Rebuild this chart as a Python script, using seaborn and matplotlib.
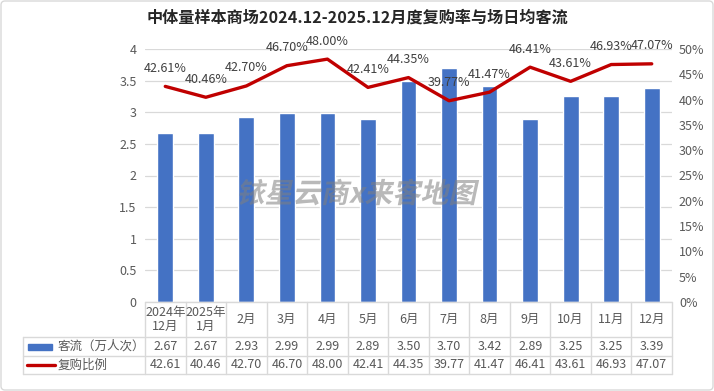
import numpy as np
import pandas as pd
import matplotlib
matplotlib.use('Agg')
import matplotlib.pyplot as plt
import seaborn as sns
from matplotlib.patches import Rectangle, FancyBboxPatch, PathPatch
from matplotlib.textpath import TextPath
from matplotlib.font_manager import FontProperties
from matplotlib.transforms import Affine2D

# data
months = ['2024年\n12月', '2025年\n1月', '2月', '3月', '4月', '5月', '6月', '7月', '8月', '9月', '10月', '11月', '12月']
traffic = [2.67, 2.67, 2.93, 2.99, 2.99, 2.89, 3.50, 3.70, 3.42, 2.89, 3.25, 3.25, 3.39]
repurchase = [42.61, 40.46, 42.70, 46.70, 48.00, 42.41, 44.35, 39.77, 41.47, 46.41, 43.61, 46.93, 47.07]
left_ticks = [0, 0.5, 1, 1.5, 2, 2.5, 3, 3.5, 4]
right_ticks = [0, 5, 10, 15, 20, 25, 30, 35, 40, 45, 50]
title = '中体量样本商场2024.12-2025.12月度复购率与场日均客流'
watermark = '铱星云商x来客地图'
series_names = ['客流（万人次）', '复购比例']

bar_color = '#4472C4'
line_color = '#C00000'
text_color = '#595959'
grid_color = '#D9D9D9'

sns.set_style('white')
plt.rcParams['font.family'] = ['Noto Sans CJK SC', 'DejaVu Sans']

W, H = 714, 391
fig = plt.figure(figsize=(W / 100, H / 100), dpi=100)

# plot area in pixels
x0, x1, y_top, y_bot = 145, 672, 49, 302
ax = fig.add_axes([x0 / W, (H - y_bot) / H, (x1 - x0) / W, (y_bot - y_top) / H])

df = pd.DataFrame({'month': months, 'traffic': traffic, 'rate': repurchase})
sns.barplot(data=df, x='month', y='traffic', color=bar_color, width=0.39,
            saturation=1, ax=ax, zorder=2)
ax.set_xlim(-0.5, len(months) - 0.5)
ax.set_ylim(0, 4)
ax.set_yticks(left_ticks)
ax.set_yticklabels(['%g' % t for t in left_ticks])
ax.yaxis.grid(True, color=grid_color, linewidth=0.9, zorder=0)
ax.set_axisbelow(True)
ax.set_xticks([])
ax.set_xlabel('')
ax.set_ylabel('')
ax.tick_params(axis='y', length=0, pad=6, labelsize=9, labelcolor=text_color)
for s in ax.spines.values():
    s.set_visible(False)

ax2 = ax.twinx()
sns.lineplot(x=np.arange(len(months)), y=df['rate'], color=line_color, linewidth=2.4,
             ax=ax2, zorder=3)
ax2.set_ylim(0, 50)
ax2.set_yticks(right_ticks)
ax2.set_yticklabels(['%d%%' % t for t in right_ticks])
ax2.tick_params(axis='y', length=0, pad=5, labelsize=9, labelcolor=text_color)
ax2.set_ylabel('')
ax2.set_xlim(-0.5, len(months) - 0.5)
for s in ax2.spines.values():
    s.set_visible(False)
for i, v in enumerate(repurchase):
    ax2.annotate('%.2f%%' % v, (i, v), xytext=(0, 13), textcoords='offset points',
                 ha='center', va='center', fontsize=9, color='#404040')

# title
fig.text(0.5, (H - 18) / H, title, ha='center', va='center', fontsize=11.6,
         fontweight='bold', color='#262626')

# table drawn in pixel coordinates
tab = fig.add_axes([0, 0, 1, 1], zorder=5)
tab.set_xlim(0, W)
tab.set_ylim(H, 0)
tab.axis('off')
tab.patch.set_alpha(0)

n = len(months)
cw = (x1 - x0) / n
r0, r1, r2, r3 = 302, 337, 356, 374
leg_x = 23
lc = grid_color
tab.plot([x0, x1], [r0, r0], color=lc, lw=1)
for yy in (r1, r2, r3):
    tab.plot([leg_x, x1], [yy, yy], color=lc, lw=1)
for i in range(n + 1):
    tab.plot([x0 + i * cw] * 2, [r0, r3], color=lc, lw=1)
tab.plot([leg_x, leg_x], [r1, r3], color=lc, lw=1)

for i in range(n):
    cx = x0 + (i + 0.5) * cw
    tab.text(cx, (r0 + r1) / 2, months[i], ha='center', va='center', fontsize=9,
             color=text_color, linespacing=1.05)
    tab.text(cx, (r1 + r2) / 2, '%.2f' % traffic[i], ha='center', va='center',
             fontsize=9, color=text_color)
    tab.text(cx, (r2 + r3) / 2, '%.2f' % repurchase[i], ha='center', va='center',
             fontsize=9, color=text_color)

tab.add_patch(Rectangle((28, (r1 + r2) / 2 - 3), 24, 6, color=bar_color))
tab.plot([27, 55], [(r2 + r3) / 2] * 2, color=line_color, lw=2.4)
tab.text(58, (r1 + r2) / 2, series_names[0], ha='left', va='center', fontsize=9, color=text_color)
tab.text(58, (r2 + r3) / 2, series_names[1], ha='left', va='center', fontsize=9, color=text_color)

# outer border
tab.add_patch(FancyBboxPatch((1, 1), W - 2, H - 2, boxstyle='round,pad=0,rounding_size=4',
                             fill=False, edgecolor=grid_color, lw=1))

# watermark, slanted, in display pixels
fp = FontProperties(family='Noto Sans CJK SC', weight='bold')
tp = TextPath((0, 0), watermark, size=28, prop=fp)
bb = tp.get_extents()
wm_tr = (Affine2D().translate(-(bb.x0 + bb.x1) / 2, -(bb.y0 + bb.y1) / 2)
         .skew_deg(12, 0).translate(358, H - 192))
fig.patches.append(PathPatch(tp, transform=wm_tr, facecolor='#808080', edgecolor='none',
                             alpha=0.55, zorder=10, figure=fig))

fig.savefig('out.png', dpi=100)
